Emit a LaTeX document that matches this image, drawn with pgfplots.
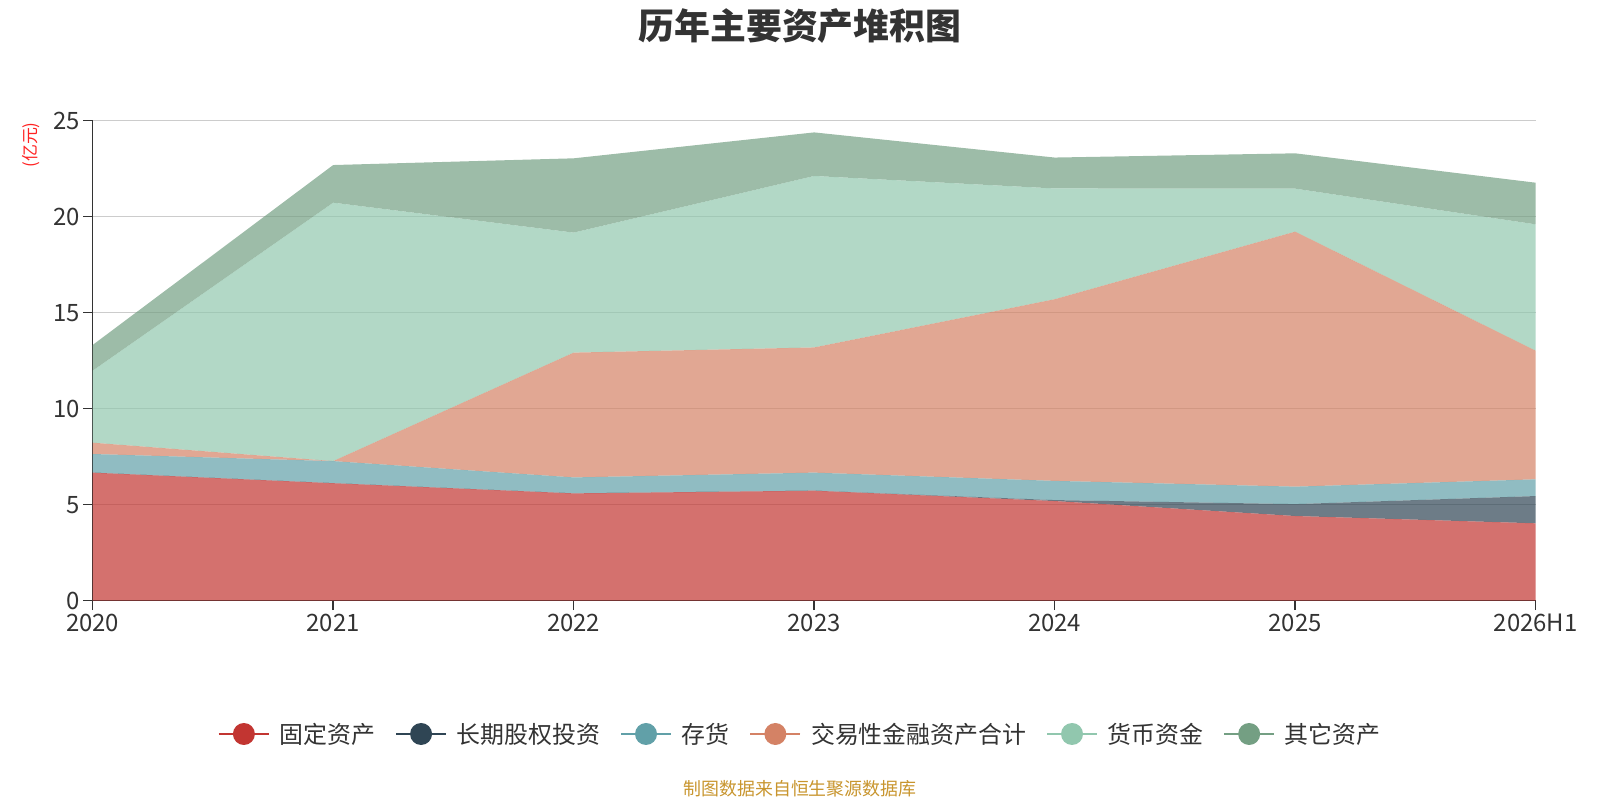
\documentclass[border=0pt]{standalone}
\usepackage{fontspec}
\setmainfont{Noto Sans CJK SC}
\usepackage{pgfplots}
\pgfplotsset{compat=1.18}
\definecolor{c1}{HTML}{C23531}
\definecolor{c2}{HTML}{2F4554}
\definecolor{c3}{HTML}{61A0A8}
\definecolor{c4}{HTML}{D48265}
\definecolor{c5}{HTML}{91C7AE}
\definecolor{c6}{HTML}{749F83}
\definecolor{txt}{HTML}{333333}
\definecolor{gridc}{HTML}{CCCCCC}
\definecolor{src}{HTML}{C8952E}
\definecolor{unit}{HTML}{FF2222}
\pgfplotsset{
  legimg/.style={legend image code/.code={%
    \draw[#1,opacity=1,line width=1.5bp] (0bp,0bp)--(50bp,0bp);
    \fill[#1,opacity=1] (25bp,0bp) circle (11bp);}},
  area/.style={fill=#1, fill opacity=0.7, draw=none, legimg=#1}
}
\begin{document}
\begin{tikzpicture}[x=1bp,y=1bp]
\path[use as bounding box] (0,0) rectangle (1600,800);
\node[font=\fontsize{36}{40}\selectfont\bfseries, text=txt] at (800,774) {历年主要资产堆积图};
\node[font=\fontsize{17}{20}\selectfont, text=unit, rotate=90] at (31,655) {(亿元)};
\node[font=\fontsize{18}{20}\selectfont, text=src] at (800,11) {制图数据来自恒生聚源数据库};
\begin{axis}[
  at={(92.7bp,199.3bp)}, anchor=south west,
  scale only axis, width=1443bp, height=480bp,
  xmin=0, xmax=6, ymin=0, ymax=25,
  xtick={0,1,2,3,4,5,6},
  xticklabels={2020,2021,2022,2023,2024,2025,2026H1},
  ytick={0,5,10,15,20,25},
  axis lines*=left,
  axis line style={draw=txt, line width=1.5bp},
  ymajorgrids, grid style={draw=gridc, line width=1.2bp},
  tick style={draw=txt, line width=1.5bp},
  major tick length=9.5bp, tick align=outside,
  ticklabel style={font=\fontsize{24}{28}\selectfont, text=txt},
  /pgf/number format/assume math mode=true,
  stack plots=y,
  legend columns=6,
  legend style={at={(0.0868,-0.2777)}, anchor=west, draw=none, fill=none,
    inner sep=0pt, nodes={inner sep=0pt},
    font=\fontsize{24}{28}\selectfont, text=txt,
    /tikz/every odd column/.append style={column sep=10bp},
    /tikz/every even column/.append style={column sep=20bp}},
]
\addplot[area=c1] coordinates {(0,6.67) (1,6.12) (2,5.59) (3,5.73) (4,5.19) (5,4.41) (6,4.03)} \closedcycle;
\addlegendentry{固定资产}
\addplot[area=c2] coordinates {(0,0) (1,0) (2,0) (3,0) (4,0.05) (5,0.62) (6,1.42)} \closedcycle;
\addlegendentry{长期股权投资}
\addplot[area=c3] coordinates {(0,0.97) (1,1.15) (2,0.83) (3,0.94) (4,1.00) (5,0.91) (6,0.87)} \closedcycle;
\addlegendentry{存货}
\addplot[area=c4] coordinates {(0,0.59) (1,0) (2,6.50) (3,6.52) (4,9.46) (5,13.28) (6,6.70)} \closedcycle;
\addlegendentry{交易性金融资产合计}
\addplot[area=c5] coordinates {(0,3.75) (1,13.46) (2,6.25) (3,8.93) (4,5.77) (5,2.24) (6,6.58)} \closedcycle;
\addlegendentry{货币资金}
\addplot[area=c6] coordinates {(0,1.34) (1,1.96) (2,3.87) (3,2.27) (4,1.61) (5,1.84) (6,2.17)} \closedcycle;
\addlegendentry{其它资产}
\end{axis}
\end{tikzpicture}
\end{document}
